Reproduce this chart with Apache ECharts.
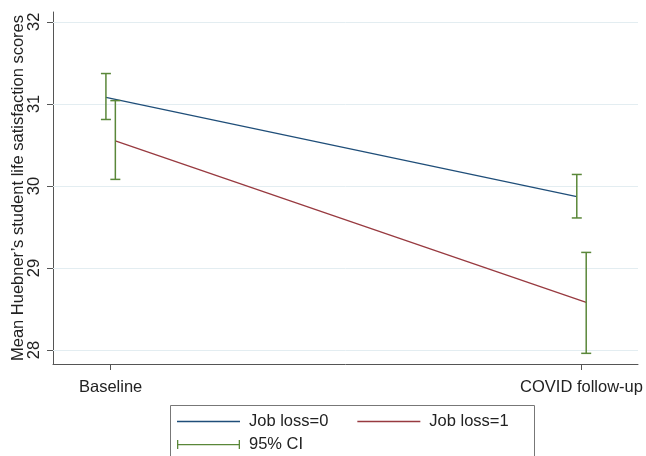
<!DOCTYPE html>
<html>
<head>
<meta charset="utf-8">
<script src="https://cdn.jsdelivr.net/npm/echarts@6/dist/echarts.min.js"></script>
<style>html,body{margin:0;padding:0;background:#fff}#c{width:646px;height:456px}</style>
</head>
<body>
<div id="c"></div>
<script>
const categories = ['Baseline', 'COVID follow-up'];
const jobLoss0Mean = [31.08, 29.87];
const jobLoss0Low = [30.81, 29.61];
const jobLoss0High = [31.37, 30.14];
const jobLoss1Mean = [30.55, 28.58];
const jobLoss1Low = [30.08, 27.96];
const jobLoss1High = [31.04, 29.19];
const yTicks = [28, 29, 30, 31, 32];
const seriesNames = ['Job loss=0', 'Job loss=1', '95% CI'];

const NAVY = '#1f4e79', MAROON = '#983a40', GREEN = '#5a8739';
const FONT = 'Liberation Sans, Arial, sans-serif';
const offsets = [-0.01, 0.01];

const xIdx = categories.map((c, i) => i);
const line0 = xIdx.map(i => [i + offsets[0], jobLoss0Mean[i]]);
const line1 = xIdx.map(i => [i + offsets[1], jobLoss1Mean[i]]);
const ciData = xIdx.map(i => [i + offsets[0], jobLoss0Low[i], jobLoss0High[i]])
  .concat(xIdx.map(i => [i + offsets[1], jobLoss1Low[i], jobLoss1High[i]]));

const chart = echarts.init(document.getElementById('c'), null, {renderer: 'canvas'});
chart.setOption({
  animation: false,
  backgroundColor: '#fff',
  textStyle: {fontFamily: FONT},
  grid: {left: 53, right: 8, top: 12, bottom: 92, containLabel: false, outerBoundsMode: 'none'},
  xAxis: {
    type: 'value', min: -0.1224, max: 1.12,
    axisLine: {show: true, onZero: false, lineStyle: {color: '#555', width: 1}},
    axisTick: {show: true, length: 6, customValues: xIdx, lineStyle: {color: '#555'}},
    axisLabel: {customValues: xIdx, margin: 15, fontSize: 16.5, color: '#222', fontFamily: FONT,
      formatter: v => categories[Math.round(v)] || ''},
    splitLine: {show: false}
  },
  yAxis: {
    type: 'value', min: 27.83, max: 32.12,
    name: 'Mean Huebner’s student life satisfaction scores',
    nameLocation: 'middle', nameGap: 26, nameMoveOverlap: false,
    nameTextStyle: {fontSize: 16.5, color: '#222', fontFamily: FONT},
    axisLine: {show: true, onZero: false, lineStyle: {color: '#555', width: 1}},
    axisTick: {show: true, length: 6, customValues: yTicks, lineStyle: {color: '#555'}},
    axisLabel: {customValues: yTicks, rotate: 90, margin: 10, fontSize: 16.5, color: '#222', fontFamily: FONT},
    splitLine: {show: false}
  },
  legend: [{
    left: 172, top: 408, itemWidth: 63, itemHeight: 1.5, itemGap: 29, icon: 'rect',
    textStyle: {fontSize: 16.5, color: '#222', fontFamily: FONT, padding: [0, 0, 0, 4]},
    data: [seriesNames[0], seriesNames[1]]
  }, {
    left: 172, top: 431, itemWidth: 63, itemHeight: 9,
    textStyle: {fontSize: 16.5, color: '#222', fontFamily: FONT, padding: [0, 0, 0, 4]},
    data: [{name: seriesNames[2], icon: 'path://M0,0h1.3v9h-1.3z M0,3.9h63v1.3h-63z M61.7,0h1.3v9h-1.3z', itemStyle: {color: GREEN}}]
  }],
  graphic: [{
    type: 'rect', left: 168, top: 403, silent: true,
    shape: {width: 364, height: 60},
    style: {fill: 'none', stroke: '#777', lineWidth: 1}
  }],
  series: [
    {
      name: 'grid', type: 'line', data: [], z: 1, silent: true,
      markLine: {
        silent: true, symbol: 'none', label: {show: false}, z: 1,
        lineStyle: {color: '#e3edf1', width: 1, type: 'solid'},
        emphasis: {disabled: true},
        data: yTicks.map(v => ({yAxis: v}))
      }
    },
    {
      name: seriesNames[0], type: 'line', data: line0, symbol: 'none', showSymbol: false,
      lineStyle: {color: NAVY, width: 1.3}, itemStyle: {color: NAVY}, z: 3
    },
    {
      name: seriesNames[1], type: 'line', data: line1, symbol: 'none', showSymbol: false,
      lineStyle: {color: MAROON, width: 1.3}, itemStyle: {color: MAROON}, z: 3
    },
    {
      name: seriesNames[2], type: 'custom', data: ciData, z: 4,
      itemStyle: {color: GREEN},
      renderItem: function (params, api) {
        const x = api.value(0);
        const lo = api.coord([x, api.value(1)]);
        const hi = api.coord([x, api.value(2)]);
        const w = 5;
        const st = {stroke: GREEN, lineWidth: 1.5};
        return {
          type: 'group',
          children: [
            {type: 'line', shape: {x1: lo[0], y1: lo[1], x2: hi[0], y2: hi[1]}, style: st},
            {type: 'line', shape: {x1: hi[0] - w, y1: hi[1], x2: hi[0] + w, y2: hi[1]}, style: st},
            {type: 'line', shape: {x1: lo[0] - w, y1: lo[1], x2: lo[0] + w, y2: lo[1]}, style: st}
          ]
        };
      }
    }
  ]
});
</script>
</body>
</html>
